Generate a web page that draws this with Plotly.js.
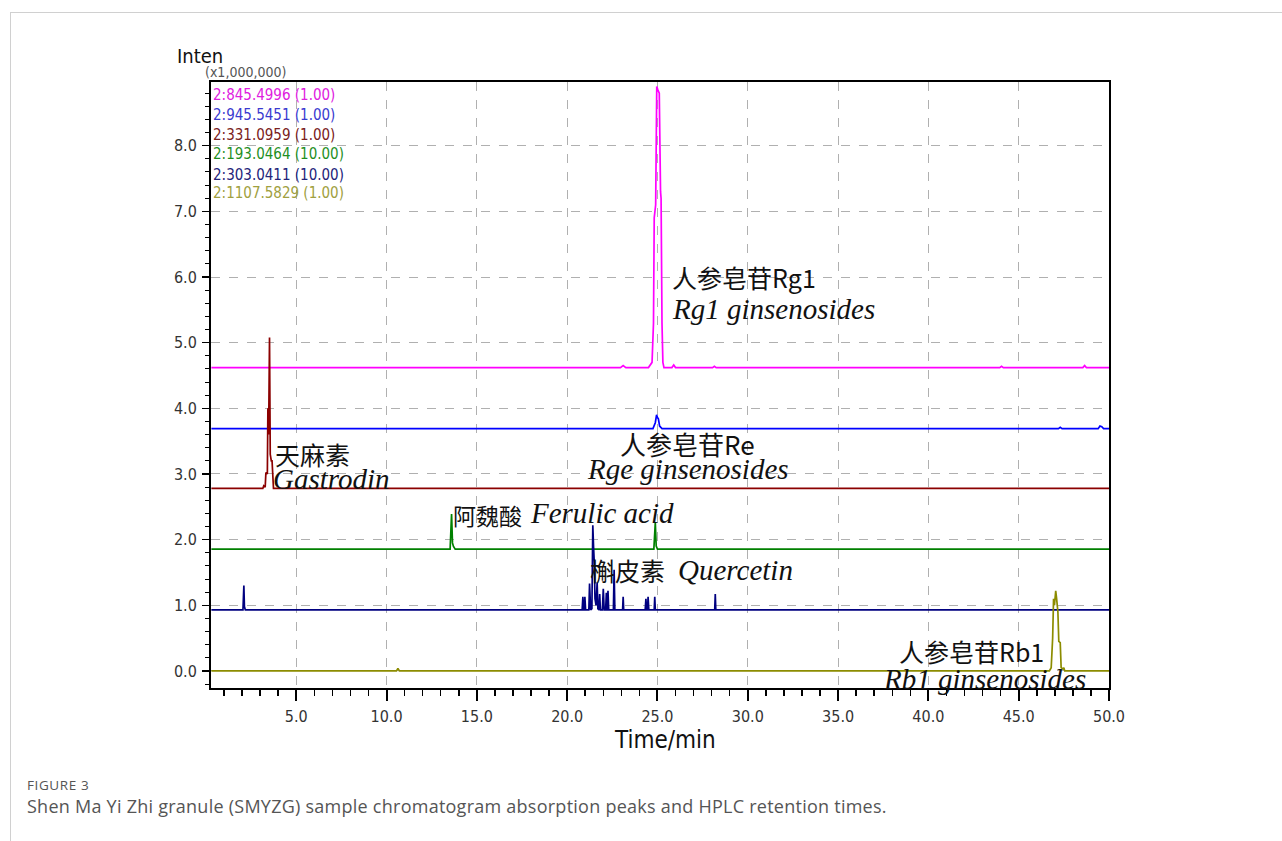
<!DOCTYPE html>
<html>
<head>
<meta charset="utf-8">
<script src="https://cdn.plot.ly/plotly-3.0.1.min.js"></script>
<style>
  html, body { margin: 0; padding: 0; background: #ffffff; width: 1282px; height: 841px; overflow: hidden; }
  #card { position: absolute; left: 10px; top: 12px; width: 1400px; height: 900px; border: 1px solid #d0d0d0; box-sizing: border-box; }
  #chart { position: absolute; left: 0; top: 0; width: 1282px; height: 841px; }
  #figlabel { position: absolute; left: 27px; top: 776px; font-family: "Open Sans", "Noto Sans", sans-serif; font-size: 13.5px; color: #555; letter-spacing: 0.6px; }
  #caption { position: absolute; left: 27px; top: 794px; font-family: "Open Sans", "Noto Sans", sans-serif; font-size: 18px; color: #555; letter-spacing: 0.25px; }
</style>
</head>
<body>
<div id="card"></div>
<div id="chart"></div>
<div id="figlabel">FIGURE 3</div>
<div id="caption">Shen Ma Yi Zhi granule (SMYZG) sample chromatogram absorption peaks and HPLC retention times.</div>
<script>
// ---- Data (time in min, intensity x1,000,000) ----
const seriesNames = ["2:845.4996 (1.00)", "2:945.5451 (1.00)", "2:331.0959 (1.00)", "2:193.0464 (10.00)", "2:303.0411 (10.00)", "2:1107.5829 (1.00)"];

// m/z 845.4996 – ginsenoside Rg1 (magenta)
const rg1Time  = [0.3, 22.95, 23.1, 23.25, 24.5, 24.7, 24.78, 24.82, 24.9, 24.96, 25.02, 25.1, 25.17, 25.2, 25.25, 25.3, 25.36, 25.8, 25.9, 26.0, 28.05, 28.15, 28.25, 43.95, 44.05, 44.15, 48.55, 48.65, 48.75, 50];
const rg1Inten = [4.62, 4.62, 4.65, 4.62, 4.62, 4.70, 5.30, 6.90, 7.10, 8.90, 8.85, 8.80, 7.30, 7.20, 5.30, 4.70, 4.62, 4.62, 4.66, 4.62, 4.62, 4.64, 4.62, 4.62, 4.64, 4.62, 4.62, 4.65, 4.62, 4.62];

// m/z 945.5451 – ginsenoside Re (blue)
const reTime  = [0.3, 24.75, 24.88, 24.95, 25.0, 25.05, 25.12, 25.25, 47.2, 47.3, 47.4, 49.4, 49.5, 49.6, 49.7, 50];
const reInten = [3.69, 3.69, 3.78, 3.90, 3.86, 3.84, 3.73, 3.69, 3.69, 3.71, 3.69, 3.69, 3.73, 3.72, 3.69, 3.69];

// m/z 331.0959 – gastrodin (dark red)
const gasTime  = [0.3, 3.15, 3.2, 3.28, 3.32, 3.4, 3.43, 3.47, 3.52, 3.56, 3.62, 3.66, 3.74, 50];
const gasInten = [2.78, 2.78, 2.82, 2.80, 3.02, 3.00, 4.00, 3.60, 5.08, 3.30, 3.20, 3.20, 2.78, 2.78];

// m/z 193.0464 – ferulic acid (green)
const ferTime  = [0.3, 13.52, 13.6, 13.65, 13.7, 13.8, 24.8, 24.88, 24.93, 25.0, 50];
const ferInten = [1.855, 1.855, 2.39, 1.95, 1.90, 1.855, 1.855, 2.26, 1.90, 1.855, 1.855];

// m/z 303.0411 – quercetin (navy)
const queTime  = [0.3, 2.05, 2.1, 2.13, 2.18, 20.83, 20.87, 20.9, 20.95, 20.98, 21.02, 21.2, 21.24, 21.3, 21.37, 21.42, 21.46, 21.5, 21.54, 21.6, 21.66, 21.7, 21.76, 21.8, 21.84, 21.95, 22.0, 22.05, 22.13, 22.17, 22.2, 22.23, 22.26, 22.3, 22.56, 22.6, 22.64, 23.07, 23.1, 23.13, 24.32, 24.36, 24.4, 24.45, 24.48, 24.52, 24.82, 24.85, 24.88, 28.17, 28.2, 28.23, 50];
const queInten = [0.93, 0.93, 1.30, 0.98, 0.93, 0.93, 1.13, 0.93, 0.93, 1.13, 0.93, 0.93, 1.33, 0.93, 0.95, 2.22, 1.90, 1.66, 1.10, 1.00, 1.35, 0.95, 0.93, 1.17, 0.93, 0.93, 1.25, 0.93, 0.93, 1.19, 0.93, 0.93, 1.22, 0.93, 0.93, 1.54, 0.93, 0.93, 1.13, 0.93, 0.93, 1.10, 0.93, 0.93, 1.13, 0.93, 0.93, 1.13, 0.93, 0.93, 1.17, 0.93, 0.93];

// m/z 1107.5829 – ginsenoside Rb1 (olive)
const rb1Time  = [0.3, 10.55, 10.63, 10.71, 46.7, 46.8, 46.88, 46.93, 46.98, 47.05, 47.1, 47.17, 47.22, 47.3, 47.35, 47.45, 47.5, 47.55, 50];
const rb1Inten = [0.0, 0.0, 0.04, 0.0, 0.0, 0.05, 0.50, 1.10, 1.00, 1.22, 1.10, 0.90, 0.45, 0.43, 0.05, 0.03, 0.05, 0.0, 0.0];

const xTickVals = [5, 10, 15, 20, 25, 30, 35, 40, 45, 50];
const xTickText = ["5.0", "10.0", "15.0", "20.0", "25.0", "30.0", "35.0", "40.0", "45.0", "50.0"];
const yTickVals = [0, 1, 2, 3, 4, 5, 6, 7, 8];
const yTickText = ["0.0", "1.0", "2.0", "3.0", "4.0", "5.0", "6.0", "7.0", "8.0"];

// ---- styling ----
const lineColors = ["#ff00ff", "#0000ff", "#8b0000", "#008000", "#000080", "#8c8c00"];
const legendColors = ["#e020e0", "#3a3ad0", "#7a2020", "#1f8f1f", "#23237a", "#a0a040"];
const narrow = "Liberation Sans Narrow, DejaVu Sans Condensed, Arial Narrow, Liberation Sans, sans-serif";
const serif = "Liberation Serif, Times New Roman, DejaVu Serif, serif";
const cjk = "Noto Sans CJK SC, Noto Sans, sans-serif";

const xs = [rg1Time, reTime, gasTime, ferTime, queTime, rb1Time];
const ys = [rg1Inten, reInten, gasInten, ferInten, queInten, rb1Inten];
const traces = xs.map((x, i) => ({
  x: x, y: ys[i], type: "scatter", mode: "lines", name: seriesNames[i],
  line: { color: lineColors[i], width: 1.7 }, hoverinfo: "x+y+name"
}));

// legend-like text block inside plot (top-left)
const annotations = [];
const legendY = [8.77, 8.47, 8.17, 7.87, 7.56, 7.28];
seriesNames.forEach((n, i) => {
  annotations.push({ x: 0.3, y: legendY[i], xref: "x", yref: "y", text: n, showarrow: false,
    xanchor: "left", yanchor: "middle", font: { family: narrow, size: 15, color: legendColors[i] } });
});

function lab(x, y, text, font, size) {
  annotations.push({ x: x, y: y, xref: "x", yref: "y", text: text, showarrow: false,
    xanchor: "left", yanchor: "middle", borderpad: 0, font: { family: font, size: size, color: "#111" } });
}
lab(25.75, 6.0, "人参皂苷Rg1", cjk, 25);
lab(25.75, 5.51, "<i>Rg1 ginsenosides</i>", serif, 29);
lab(3.75, 3.31, "天麻素", cjk, 25);
lab(3.65, 2.93, "<i>Gastrodin</i>", serif, 29);
lab(22.85, 3.46, "人参皂苷Re", cjk, 26);
lab(21.05, 3.08, "<i>Rge ginsenosides</i>", serif, 29);
lab(13.6, 2.38, "阿魏酸", cjk, 23);
lab(17.9, 2.40, "<i>Ferulic acid</i>", serif, 29);
lab(21.2, 1.54, "槲皮素", cjk, 25);
lab(26.1, 1.54, "<i>Quercetin</i>", serif, 29);
lab(38.3, 0.31, "人参皂苷Rb1", cjk, 25);
lab(37.45, -0.13, "<i>Rb1 ginsenosides</i>", serif, 29);

// axis titles as paper-referenced annotations
annotations.push({ x: -0.04, y: 1.043, xref: "paper", yref: "paper", text: "Inten", showarrow: false,
  xanchor: "left", yanchor: "middle", font: { family: narrow, size: 20, color: "#111" } });
annotations.push({ x: -0.009, y: 1.0165, xref: "paper", yref: "paper", text: "(x1,000,000)", showarrow: false,
  xanchor: "left", yanchor: "middle", font: { family: narrow, size: 14, color: "#555" } });
annotations.push({ x: 0.5056, y: -0.0858, xref: "paper", yref: "paper", text: "Time/min", showarrow: false,
  xanchor: "center", yanchor: "middle", font: { family: narrow, size: 24, color: "#111" } });

const layout = {
  width: 1282, height: 841,
  margin: { l: 211, r: 173, t: 82, b: 153, pad: 0 },
  paper_bgcolor: "rgba(0,0,0,0)", plot_bgcolor: "#ffffff",
  showlegend: false,
  xaxis: {
    range: [0.28, 50], tickvals: xTickVals, ticktext: xTickText,
    ticks: "outside", ticklen: 11, tickwidth: 2, tickcolor: "#000",
    minor: { dtick: 1, tick0: 0, ticks: "outside", ticklen: 6, tickwidth: 1.5, tickcolor: "#000", showgrid: false },
    showline: true, linecolor: "#000", linewidth: 2, mirror: true,
    showgrid: true, gridcolor: "#b0b0b0", griddash: "dash", gridwidth: 1,
    zeroline: false, ticklabelstandoff: 2,
    tickfont: { family: narrow, size: 16, color: "#333" }
  },
  yaxis: {
    range: [-0.26, 8.97], tickvals: yTickVals, ticktext: yTickText,
    ticks: "outside", ticklen: 7, tickwidth: 1.5, tickcolor: "#000",
    minor: { dtick: 0.2, tick0: 0, ticks: "outside", ticklen: 4, tickwidth: 1, tickcolor: "#000", showgrid: false },
    showline: true, linecolor: "#000", linewidth: 2, mirror: true,
    showgrid: true, gridcolor: "#b0b0b0", griddash: "dash", gridwidth: 1,
    zeroline: false, ticklabelstandoff: 2,
    tickfont: { family: narrow, size: 16, color: "#333" }
  },
  annotations: annotations
};

Plotly.newPlot("chart", traces, layout, { displayModeBar: false, staticPlot: true });
</script>
</body>
</html>
